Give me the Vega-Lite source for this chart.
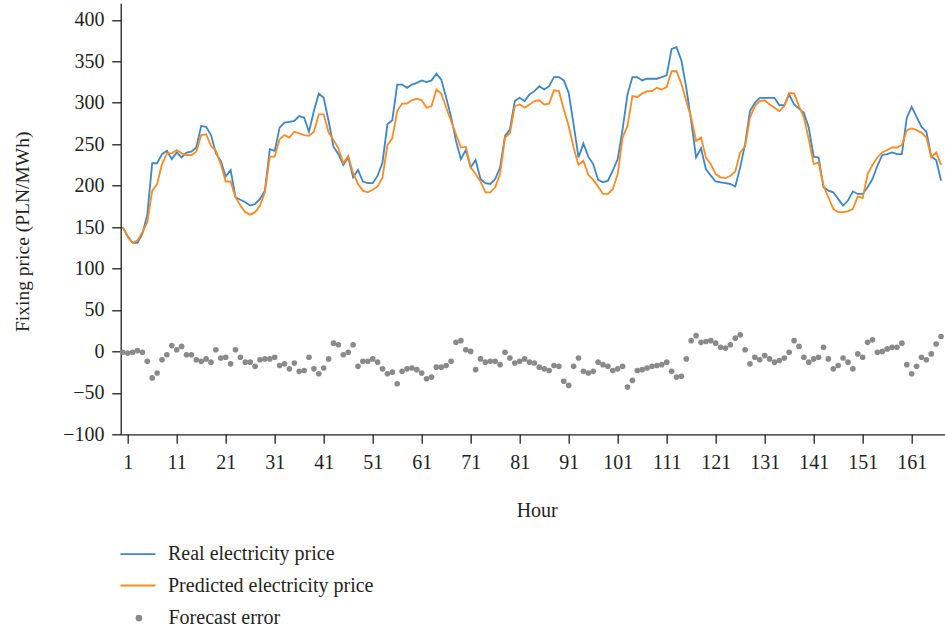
{
  "$schema": "https://vega.github.io/schema/vega-lite/v6.json",
  "width": 824.3,
  "height": 431,
  "autosize": "none",
  "padding": {"left": 120.7, "top": 3.3, "right": 0, "bottom": 196.7},
  "background": "white",
  "config": {
    "view": {"stroke": null},
    "font": "Liberation Serif",
    "axis": {"labelFont": "Liberation Serif", "titleFont": "Liberation Serif", "labelColor": "#231f20", "titleColor": "#231f20", "domainColor": "#231f20", "tickColor": "#231f20", "domainWidth": 1.3, "tickWidth": 1.3, "tickSize": 9, "grid": false, "titleFontWeight": "normal"},
    "legend": {"labelFont": "Liberation Serif", "labelFontSize": 20, "labelColor": "#231f20", "padding": 0, "labelLimit": 0}
  },
  "data": {"values": [
    {"h":0,"real":150,"pred":150,"err":-1},{"h":1,"real":139,"pred":138,"err":-2},{"h":2,"real":131,"pred":131,"err":-1},{"h":3,"real":131,"pred":134,"err":1},{"h":4,"real":142,"pred":144,"err":-1},{"h":5,"real":165,"pred":156,"err":-12},{"h":6,"real":227,"pred":194,"err":-32},{"h":7,"real":227,"pred":202,"err":-26},{"h":8,"real":238,"pred":226,"err":-10},{"h":9,"real":242,"pred":239,"err":-4},
    {"h":10,"real":232,"pred":239,"err":7},{"h":11,"real":240,"pred":243,"err":2},{"h":12,"real":234,"pred":239,"err":6},{"h":13,"real":240,"pred":237,"err":-4},{"h":14,"real":241,"pred":237,"err":-4},{"h":15,"real":246,"pred":241,"err":-10},{"h":16,"real":272,"pred":261,"err":-12},{"h":17,"real":271,"pred":262,"err":-9},{"h":18,"real":261,"pred":248,"err":-13},{"h":19,"real":239,"pred":242,"err":2},
    {"h":20,"real":230,"pred":226,"err":-8},{"h":21,"real":211,"pred":205,"err":-7},{"h":22,"real":219,"pred":205,"err":-15},{"h":23,"real":186,"pred":186,"err":2},{"h":24,"real":183,"pred":176,"err":-7},{"h":25,"real":180,"pred":168,"err":-13},{"h":26,"real":176,"pred":165,"err":-13},{"h":27,"real":178,"pred":168,"err":-18},{"h":28,"real":184,"pred":176,"err":-10},{"h":29,"real":194,"pred":192,"err":-9},
    {"h":30,"real":244,"pred":235,"err":-9},{"h":31,"real":242,"pred":235,"err":-7},{"h":32,"real":270,"pred":256,"err":-17},{"h":33,"real":276,"pred":261,"err":-15},{"h":34,"real":277,"pred":258,"err":-21},{"h":35,"real":278,"pred":265,"err":-14},{"h":36,"real":284,"pred":263,"err":-24},{"h":37,"real":282,"pred":261,"err":-23},{"h":38,"real":265,"pred":260,"err":-7},{"h":39,"real":290,"pred":265,"err":-21},
    {"h":40,"real":311,"pred":286,"err":-27},{"h":41,"real":306,"pred":286,"err":-20},{"h":42,"real":278,"pred":264,"err":-9},{"h":43,"real":247,"pred":255,"err":10},{"h":44,"real":238,"pred":245,"err":8},{"h":45,"real":225,"pred":227,"err":-4},{"h":46,"real":234,"pred":236,"err":-1},{"h":47,"real":210,"pred":215,"err":8},{"h":48,"real":219,"pred":202,"err":-18},{"h":49,"real":205,"pred":194,"err":-12},
    {"h":50,"real":203,"pred":192,"err":-12},{"h":51,"real":203,"pred":195,"err":-9},{"h":52,"real":212,"pred":199,"err":-13},{"h":53,"real":228,"pred":210,"err":-21},{"h":54,"real":274,"pred":249,"err":-27},{"h":55,"real":279,"pred":257,"err":-25},{"h":56,"real":322,"pred":290,"err":-39},{"h":57,"real":322,"pred":299,"err":-24},{"h":58,"real":318,"pred":299,"err":-21},{"h":59,"real":322,"pred":303,"err":-20},
    {"h":60,"real":324,"pred":305,"err":-22},{"h":61,"real":327,"pred":303,"err":-26},{"h":62,"real":325,"pred":294,"err":-33},{"h":63,"real":327,"pred":296,"err":-31},{"h":64,"real":335,"pred":316,"err":-19},{"h":65,"real":328,"pred":311,"err":-19},{"h":66,"real":306,"pred":294,"err":-17},{"h":67,"real":283,"pred":278,"err":-12},{"h":68,"real":254,"pred":262,"err":11},{"h":69,"real":232,"pred":246,"err":13},
    {"h":70,"real":243,"pred":247,"err":2},{"h":71,"real":222,"pred":222,"err":0},{"h":72,"real":231,"pred":214,"err":-22},{"h":73,"real":208,"pred":205,"err":-9},{"h":74,"real":203,"pred":192,"err":-13},{"h":75,"real":202,"pred":192,"err":-12},{"h":76,"real":208,"pred":198,"err":-12},{"h":77,"real":222,"pred":214,"err":-16},{"h":78,"real":260,"pred":258,"err":-1},{"h":79,"real":268,"pred":263,"err":-8},
    {"h":80,"real":302,"pred":296,"err":-14},{"h":81,"real":306,"pred":298,"err":-12},{"h":82,"real":302,"pred":294,"err":-9},{"h":83,"real":310,"pred":298,"err":-13},{"h":84,"real":314,"pred":302,"err":-14},{"h":85,"real":320,"pred":303,"err":-19},{"h":86,"real":316,"pred":298,"err":-21},{"h":87,"real":320,"pred":299,"err":-23},{"h":88,"real":331,"pred":315,"err":-17},{"h":89,"real":331,"pred":314,"err":-18},
    {"h":90,"real":327,"pred":292,"err":-36},{"h":91,"real":312,"pred":272,"err":-41},{"h":92,"real":274,"pred":246,"err":-18},{"h":93,"real":234,"pred":225,"err":-8},{"h":94,"real":251,"pred":230,"err":-24},{"h":95,"real":235,"pred":213,"err":-26},{"h":96,"real":226,"pred":207,"err":-24},{"h":97,"real":207,"pred":199,"err":-13},{"h":98,"real":204,"pred":190,"err":-16},{"h":99,"real":206,"pred":190,"err":-18},
    {"h":100,"real":218,"pred":196,"err":-23},{"h":101,"real":232,"pred":214,"err":-21},{"h":102,"real":268,"pred":258,"err":-18},{"h":103,"real":310,"pred":272,"err":-43},{"h":104,"real":331,"pred":308,"err":-35},{"h":105,"real":331,"pred":307,"err":-23},{"h":106,"real":327,"pred":311,"err":-22},{"h":107,"real":329,"pred":314,"err":-20},{"h":108,"real":329,"pred":314,"err":-18},{"h":109,"real":329,"pred":318,"err":-17},
    {"h":110,"real":331,"pred":316,"err":-16},{"h":111,"real":333,"pred":319,"err":-13},{"h":112,"real":365,"pred":338,"err":-24},{"h":113,"real":367,"pred":338,"err":-31},{"h":114,"real":351,"pred":323,"err":-30},{"h":115,"real":318,"pred":302,"err":-9},{"h":116,"real":278,"pred":282,"err":13},{"h":117,"real":234,"pred":254,"err":19},{"h":118,"real":245,"pred":258,"err":11},{"h":119,"real":220,"pred":234,"err":12},
    {"h":120,"real":212,"pred":226,"err":13},{"h":121,"real":205,"pred":214,"err":10},{"h":122,"real":204,"pred":210,"err":5},{"h":123,"real":203,"pred":209,"err":4},{"h":124,"real":202,"pred":212,"err":8},{"h":125,"real":199,"pred":217,"err":16},{"h":126,"real":222,"pred":240,"err":20},{"h":127,"real":250,"pred":247,"err":2},{"h":128,"real":290,"pred":282,"err":-15},{"h":129,"real":300,"pred":296,"err":-7},
    {"h":130,"real":306,"pred":302,"err":-10},{"h":131,"real":306,"pred":303,"err":-5},{"h":132,"real":306,"pred":298,"err":-9},{"h":133,"real":306,"pred":294,"err":-13},{"h":134,"real":297,"pred":290,"err":-11},{"h":135,"real":297,"pred":296,"err":-8},{"h":136,"real":310,"pred":312,"err":-1},{"h":137,"real":298,"pred":311,"err":13},{"h":138,"real":293,"pred":296,"err":6},{"h":139,"real":288,"pred":282,"err":-7},
    {"h":140,"real":270,"pred":256,"err":-13},{"h":141,"real":235,"pred":226,"err":-9},{"h":142,"real":234,"pred":228,"err":-7},{"h":143,"real":198,"pred":200,"err":5},{"h":144,"real":194,"pred":186,"err":-9},{"h":145,"real":192,"pred":172,"err":-21},{"h":146,"real":184,"pred":168,"err":-17},{"h":147,"real":176,"pred":168,"err":-8},{"h":148,"real":182,"pred":169,"err":-13},{"h":149,"real":193,"pred":172,"err":-21},
    {"h":150,"real":190,"pred":187,"err":-3},{"h":151,"real":190,"pred":185,"err":-7},{"h":152,"real":198,"pred":214,"err":11},{"h":153,"real":208,"pred":225,"err":14},{"h":154,"real":224,"pred":234,"err":-1},{"h":155,"real":237,"pred":240,"err":0},{"h":156,"real":238,"pred":243,"err":3},{"h":157,"real":240,"pred":246,"err":5},{"h":158,"real":238,"pred":246,"err":5},{"h":159,"real":238,"pred":249,"err":10},
    {"h":160,"real":282,"pred":267,"err":-16},{"h":161,"real":295,"pred":269,"err":-27},{"h":162,"real":283,"pred":267,"err":-18},{"h":163,"real":271,"pred":264,"err":-7},{"h":164,"real":265,"pred":258,"err":-10},{"h":165,"real":235,"pred":234,"err":-3},{"h":166,"real":231,"pred":240,"err":9},{"h":167,"real":206,"pred":225,"err":18}
  ]},
  "encoding": {
    "x": {"field": "h", "type": "quantitative", "scale": {"domain": [-0.43, 167.8], "nice": false, "zero": false},
      "axis": {"values": [1,11,21,31,41,51,61,71,81,91,101,111,121,131,141,151,161], "title": "Hour", "labelFontSize": 20, "titleFontSize": 20, "labelBaseline": "alphabetic", "labelPadding": 24.7, "titleBaseline": "alphabetic", "titleY": 82, "titleX": 416, "labelFlush": false}}
  },
  "layer": [
    {
      "transform": [{"fold": ["real", "pred"], "as": ["series", "price"]}],
      "mark": {"type": "line", "strokeWidth": 1.8, "interpolate": "linear"},
      "encoding": {
        "y": {"field": "price", "type": "quantitative", "scale": {"domain": [-100, 420], "nice": false},
          "axis": {"values": [-100,-50,0,50,100,150,200,250,300,350,400], "title": "Fixing price (PLN/MWh)", "labelFontSize": 20, "titleFontSize": 19.5, "labelPadding": 7.7, "titleX": -88, "titleY": 228, "titleAngle": -90, "titleBaseline": "bottom", "titleAlign": "center", "labelFlush": false}},
        "stroke": {"field": "series", "type": "nominal",
          "scale": {"domain": ["real", "pred"], "range": ["#3a87c9", "#fd8a1e"]},
          "legend": {"title": null, "orient": "none", "legendX": -1.2, "legendY": 532.3, "symbolType": "stroke", "symbolSize": 1225, "symbolStrokeWidth": 1.8, "labelOffset": 11.5, "rowPadding": 2.4,
            "labelExpr": "datum.label == 'real' ? 'Real electricity price' : 'Predicted electricity price'"}},
        "detail": {"field": "series"}
      }
    },
    {
      "transform": [{"fold": ["err"], "as": ["kind", "error"]}],
      "mark": {"type": "point", "filled": true, "size": 32, "opacity": 1},
      "encoding": {
        "y": {"field": "error", "type": "quantitative"},
        "fill": {"field": "kind", "type": "nominal",
          "scale": {"domain": ["err"], "range": ["#8a8a8a"]},
          "legend": {"title": null, "orient": "none", "legendX": 8.2, "legendY": 604.8, "symbolType": "circle", "symbolSize": 45, "labelOffset": 19.6, "labelExpr": "'Forecast error'"}}
      }
    }
  ]
}
